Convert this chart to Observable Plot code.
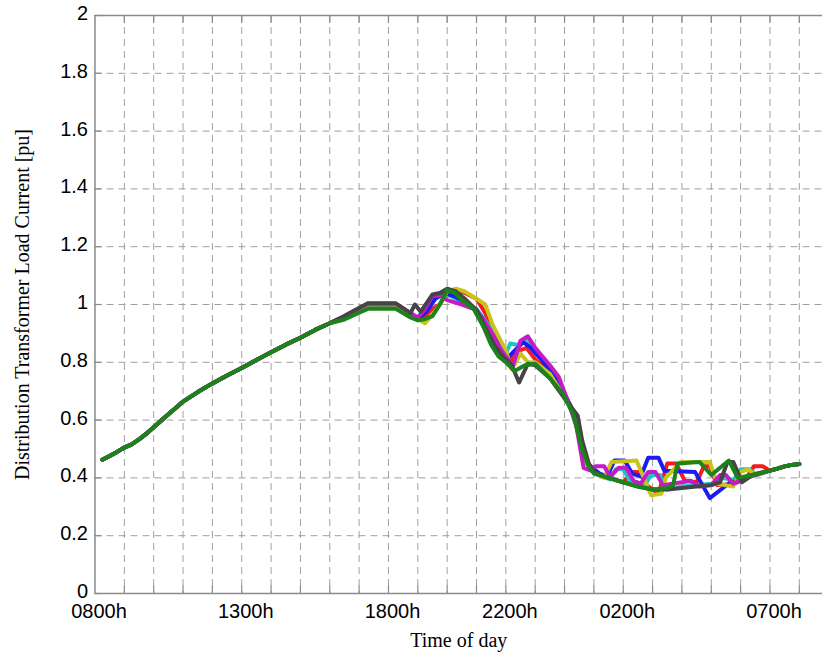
<!DOCTYPE html>
<html>
<head>
<meta charset="utf-8">
<script src="https://cdn.jsdelivr.net/npm/d3@7"></script>
<script src="https://cdn.jsdelivr.net/npm/@observablehq/plot@0.6"></script>
<style>
  html, body { margin: 0; padding: 0; background: #fff; }
  #chart svg { display: block; }
</style>
</head>
<body>
<div id="chart"></div>
<script>
// Hours after 08:00, load current in per-unit.
// Shared daytime rise (all profiles coincide here).
const sharedRise = [
  [0.25, 0.463], [0.5, 0.476], [0.75, 0.49], [1, 0.505], [1.25, 0.516], [1.5, 0.533],
  [1.75, 0.553], [2, 0.575], [2.25, 0.598], [2.5, 0.62], [2.75, 0.642], [3, 0.664],
  [3.5, 0.697], [4, 0.727], [4.5, 0.754], [5, 0.78], [5.5, 0.808], [6, 0.835],
  [6.5, 0.861], [7, 0.885], [7.5, 0.912], [8, 0.935]
];

// Shared early-morning tail.
const sharedTail = [[23.25, 0.432], [23.5, 0.44], [23.75, 0.445], [24, 0.448]];

// Individual profiles: evening peak and overnight charging blocks.
const redPath = [
  [8.5, 0.958], [9, 0.985], [9.3, 1.0], [10.25, 1.0], [10.75, 0.97], [11, 0.95], [11.25, 0.96],
  [11.5, 0.985], [11.75, 1.0], [12, 1.04], [12.3, 1.05], [12.6, 1.04], [13, 1.02], [13.3, 0.97],
  [13.6, 0.9], [13.9, 0.84], [14.2, 0.81], [14.45, 0.84], [14.7, 0.85], [15, 0.81], [15.5, 0.76],
  [16, 0.69], [16.3, 0.63], [16.6, 0.52], [16.85, 0.44], [17.1, 0.415], [17.5, 0.4], [18, 0.385],
  [18.3, 0.42], [18.55, 0.42], [18.8, 0.375], [19.2, 0.345], [19.5, 0.45], [19.8, 0.45],
  [20.1, 0.39], [20.5, 0.385], [20.75, 0.44], [20.95, 0.44], [21.2, 0.375], [21.8, 0.38],
  [22.2, 0.4], [22.45, 0.44], [22.75, 0.44], [23, 0.425]
];
const cyanPath = [
  [8.5, 0.958], [9, 0.985], [9.3, 1.0], [10.25, 1.0], [10.75, 0.97], [11, 0.955], [11.3, 0.99],
  [11.5, 1.02], [11.8, 1.03], [12.1, 1.03], [12.5, 1.01], [13, 0.985], [13.4, 0.93], [13.8, 0.85],
  [14, 0.83], [14.15, 0.865], [14.4, 0.86], [14.7, 0.885], [15, 0.84], [15.5, 0.785], [16, 0.69],
  [16.3, 0.62], [16.6, 0.5], [16.8, 0.44], [17, 0.42], [17.3, 0.405], [17.55, 0.395], [17.75, 0.43],
  [18, 0.43], [18.25, 0.385], [18.7, 0.37], [18.95, 0.41], [19.25, 0.41], [19.5, 0.36], [20, 0.37],
  [20.5, 0.375], [21, 0.38], [21.4, 0.4], [21.75, 0.39], [22, 0.43], [22.3, 0.43], [22.55, 0.41],
  [23, 0.425]
];
const bluePath = [
  [8.5, 0.958], [9, 0.985], [9.3, 1.0], [10.25, 1.0], [10.75, 0.97], [11, 0.95], [11.3, 0.975],
  [11.6, 1.02], [11.9, 1.04], [12.2, 1.03], [12.6, 1.01], [13, 0.98], [13.4, 0.92], [13.8, 0.85],
  [14.1, 0.82], [14.3, 0.84], [14.6, 0.87], [14.85, 0.85], [15.2, 0.81], [15.6, 0.76], [16, 0.69],
  [16.3, 0.63], [16.6, 0.51], [16.8, 0.45], [17, 0.43], [17.2, 0.415], [17.45, 0.405], [17.7, 0.46],
  [18.05, 0.46], [18.3, 0.415], [18.6, 0.405], [18.85, 0.47], [19.2, 0.47], [19.4, 0.425],
  [20.45, 0.42], [20.95, 0.33], [21.65, 0.385], [22, 0.39], [22.4, 0.41], [23, 0.425]
];
const yellowPath = [
  [8.5, 0.958], [9, 0.985], [9.3, 1.0], [10.25, 1.0], [10.75, 0.965], [11, 0.95], [11.25, 0.935],
  [11.5, 0.965], [11.75, 1.0], [12, 1.045], [12.3, 1.055], [12.6, 1.045], [13, 1.02], [13.3, 1.0],
  [13.55, 0.93], [13.8, 0.88], [14, 0.84], [14.2, 0.775], [14.5, 0.83], [14.75, 0.8], [15, 0.8],
  [15.5, 0.76], [16, 0.68], [16.3, 0.62], [16.6, 0.5], [16.8, 0.44], [17, 0.42], [17.35, 0.4],
  [17.6, 0.455], [18.45, 0.46], [18.95, 0.34], [19.3, 0.345], [19.45, 0.4], [19.95, 0.455],
  [20.95, 0.455], [21.2, 0.38], [21.75, 0.37], [22, 0.42], [22.25, 0.43], [22.5, 0.41], [23, 0.425]
];
const magentaPath = [
  [8.5, 0.96], [9, 0.988], [9.3, 1.003], [10.25, 1.003], [10.75, 0.97], [11, 0.955], [11.25, 0.985],
  [11.5, 1.03], [11.8, 1.03], [12, 1.015], [12.5, 1.0], [12.9, 0.985], [13.2, 0.955], [13.5, 0.905],
  [13.8, 0.85], [14, 0.82], [14.25, 0.79], [14.5, 0.875], [14.75, 0.89], [15, 0.85], [15.5, 0.79],
  [15.8, 0.75], [16.1, 0.67], [16.4, 0.58], [16.65, 0.435], [16.9, 0.425], [17.05, 0.44],
  [17.35, 0.44], [17.55, 0.405], [17.85, 0.435], [18.1, 0.435], [18.35, 0.39], [18.6, 0.38],
  [18.85, 0.42], [19.1, 0.42], [19.35, 0.375], [20, 0.385], [20.3, 0.39], [20.6, 0.37], [21, 0.375],
  [21.3, 0.41], [21.5, 0.41], [21.75, 0.38], [22.2, 0.4], [22.5, 0.41], [23, 0.425]
];
const grayPath = [
  [8.5, 0.96], [9, 0.988], [9.3, 1.004], [10.25, 1.004], [10.75, 0.97], [10.9, 1.0], [11.1, 0.975],
  [11.5, 1.035], [11.75, 1.04], [12, 1.055], [12.3, 1.045], [12.6, 1.02], [13, 0.98], [13.3, 0.92],
  [13.6, 0.86], [13.9, 0.82], [14.2, 0.79], [14.45, 0.73], [14.75, 0.795], [15, 0.79], [15.5, 0.745],
  [16, 0.675], [16.45, 0.615], [16.6, 0.53], [16.85, 0.44], [17.1, 0.415], [17.5, 0.4], [18, 0.385],
  [18.5, 0.37], [19, 0.36], [19.5, 0.36], [20, 0.365], [20.5, 0.37], [21, 0.375], [21.3, 0.385],
  [21.55, 0.455], [21.75, 0.455], [22.05, 0.385], [22.4, 0.41], [23, 0.425]
];
const greenPath = [
  [8.5, 0.948], [9, 0.972], [9.3, 0.985], [10.25, 0.985], [10.75, 0.955], [11, 0.945], [11.25, 0.95],
  [11.5, 0.96], [11.75, 1.0], [12, 1.05], [12.25, 1.04], [12.5, 1.015], [12.9, 0.985], [13.25, 0.92],
  [13.5, 0.86], [13.75, 0.82], [14, 0.8], [14.3, 0.77], [14.65, 0.79], [15, 0.795], [15.5, 0.745],
  [15.95, 0.69], [16.3, 0.62], [16.6, 0.5], [16.8, 0.445], [17, 0.415], [17.5, 0.4], [18, 0.385],
  [18.5, 0.37], [19, 0.36], [19.5, 0.365], [19.7, 0.375], [19.85, 0.45], [20.6, 0.455], [21, 0.41],
  [21.6, 0.46], [21.9, 0.4], [22.4, 0.41], [23, 0.425]
];

// Drawing order (last on top) and stroke colours.
const profiles = [
  {name: "red", path: redPath, color: "#f41c1c"},
  {name: "cyan", path: cyanPath, color: "#1cc4c8"},
  {name: "blue", path: bluePath, color: "#1c1cf0"},
  {name: "yellow", path: yellowPath, color: "#c9c41c"},
  {name: "magenta", path: magentaPath, color: "#c41cc4"},
  {name: "black", path: grayPath, color: "#454545"},
  {name: "green", path: greenPath, color: "#1c821c"}
];

// Axis ticks and labels.
const hourGrid = [1, 2, 3, 4, 5, 6, 7, 8, 9, 10, 11, 12, 13, 14, 15, 16, 17, 18, 19, 20, 21, 22, 23, 24];
const hourLabelAt = [0, 5, 10, 14, 18, 23];
const hourLabels = ["0800h", "1300h", "1800h", "2200h", "0200h", "0700h"];
const puTicks = [0, 0.2, 0.4, 0.6, 0.8, 1, 1.2, 1.4, 1.6, 1.8, 2];
const puGrid = [0.2, 0.4, 0.6, 0.8, 1, 1.2, 1.4, 1.6, 1.8];

const toRows = (p) => [...sharedRise, ...p.path, ...sharedTail].map(([t, v]) => ({t, v, name: p.name}));

const gridStyle = {stroke: "#a0a0a0", strokeOpacity: 1, strokeWidth: 1, strokeDasharray: "7,5"};
const frameStroke = "#8a8a8a";
const serif = "'Liberation Serif', 'Times New Roman', serif";

const chart = Plot.plot({
  width: 822,
  height: 664,
  marginLeft: 94.5,
  marginRight: 0,
  marginTop: 15,
  marginBottom: 71,
  style: {fontFamily: "'Liberation Sans', Arial, sans-serif", background: "#fff", color: "#000"},
  x: {domain: [0, 24.79]},
  y: {domain: [0, 2]},
  marks: [
    Plot.gridX(hourGrid, gridStyle),
    Plot.gridY(puGrid, gridStyle),
    // frame: left, bottom and top edges
    Plot.ruleX([0], {stroke: frameStroke, strokeWidth: 1.5}),
    Plot.ruleY([0, 2], {stroke: frameStroke, strokeWidth: 1.5}),
    // inward tick marks
    Plot.ruleX(hourGrid, {x: (d) => d, y1: 0, y2: 0.026, stroke: frameStroke, strokeWidth: 1.2}),
    Plot.ruleX(hourGrid, {x: (d) => d, y1: 2, y2: 1.972, stroke: frameStroke, strokeWidth: 1.2}),
    Plot.ruleY(puTicks, {y: (d) => d, x1: 0, x2: 0.24, stroke: frameStroke, strokeWidth: 1.2}),
    Plot.axisX(hourLabelAt, {
      tickSize: 0, tickPadding: 10, fontSize: 20, dx: 4, label: null,
      tickFormat: (d) => hourLabels[hourLabelAt.indexOf(d)]
    }),
    Plot.axisY(puTicks, {
      tickSize: 0, tickPadding: 7, fontSize: 20, dy: -2, label: null,
      tickFormat: (d) => `${+d.toFixed(1)}`
    }),
    ...profiles.map((p) => Plot.line(toRows(p), {
      x: "t", y: "v", stroke: p.color, strokeWidth: 4, strokeLinejoin: "round", strokeLinecap: "round"
    })),
    Plot.text(["Time of day"], {
      frameAnchor: "bottom", dy: 53, fontSize: 20, fontFamily: serif, fill: "#000"
    }),
    Plot.text(["Distribution Transformer Load Current [pu]"], {
      frameAnchor: "left", textAnchor: "middle", rotate: -90, dx: -72, fontSize: 20,
      fontFamily: serif, fill: "#000"
    })
  ]
});

document.getElementById("chart").appendChild(chart);
</script>
</body>
</html>
